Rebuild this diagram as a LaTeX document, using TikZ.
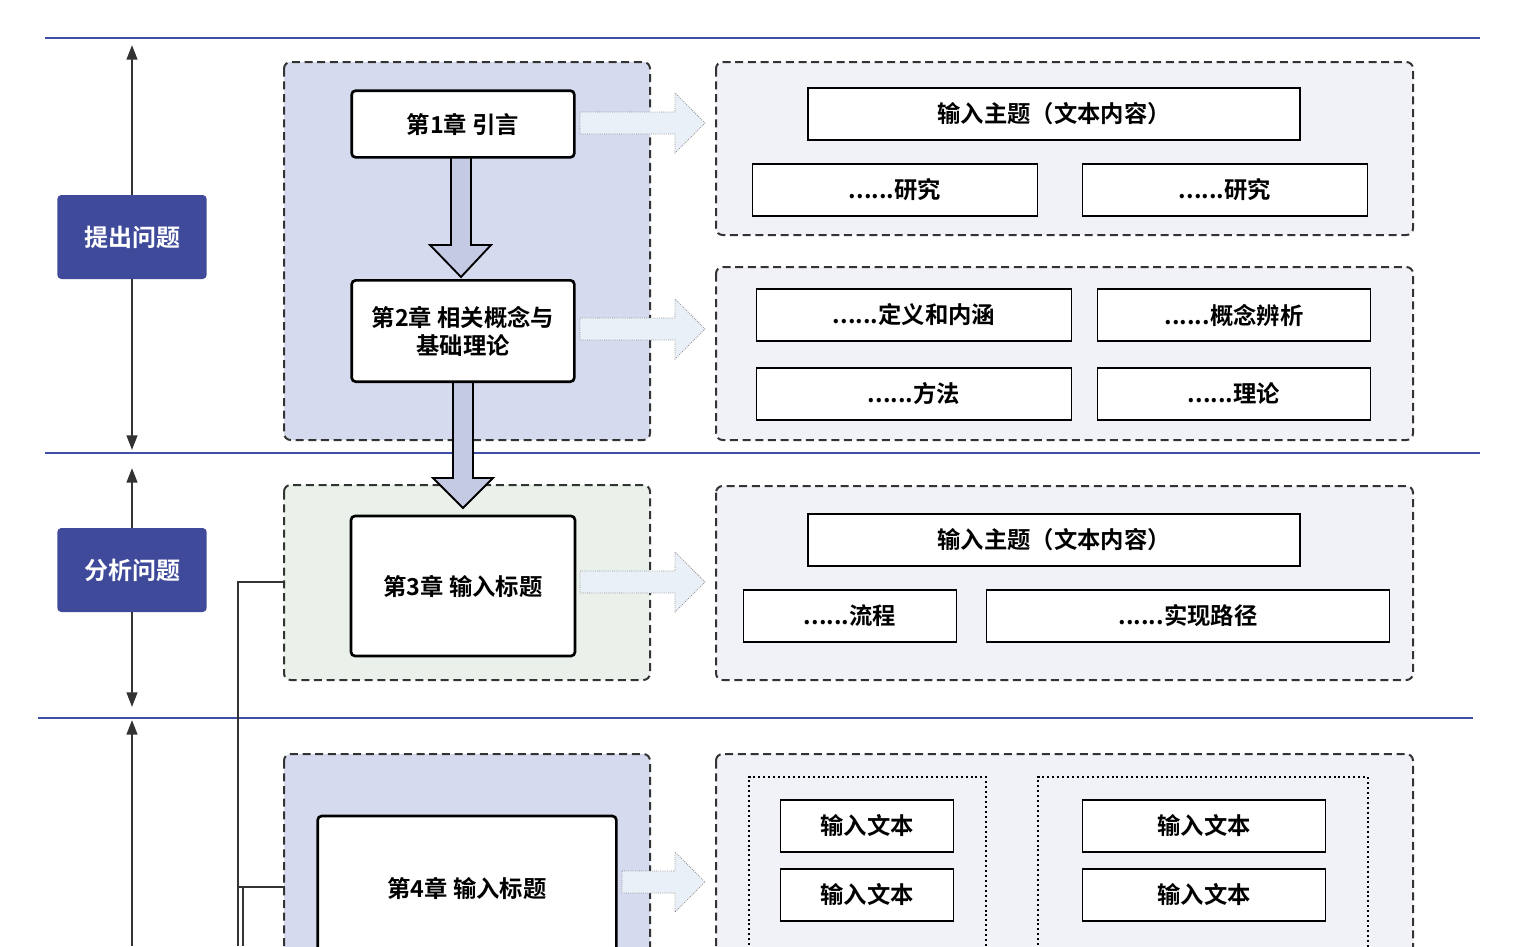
\documentclass[tikz,border=0pt]{standalone}
\usepackage{fontspec}
\setmainfont{Noto Sans CJK SC}[BoldFont={* Bold}]
\usetikzlibrary{arrows.meta}
\definecolor{bl}{HTML}{3F4FA8}
\definecolor{lab}{HTML}{3F4A9A}
\definecolor{pan}{HTML}{D6DAEE}
\definecolor{grn}{HTML}{EAF1EA}
\definecolor{rp}{HTML}{F0F2F8}
\definecolor{ar}{HTML}{C5CAE4}
\definecolor{ra}{HTML}{EAF0F8}
\begin{document}
\begin{tikzpicture}[x=0.75pt,y=-0.75pt,
 sep/.style={bl,line width=0.9pt},
 dim/.style={draw=black!80,line width=1.8pt,{Triangle[length=11pt,width=8pt]}-{Triangle[length=11pt,width=8pt]}},
 lab/.style={fill=lab,rounded corners=3pt,text=white,font=\bfseries\fontsize{18}{20}\selectfont},
 lp/.style={draw=black!80,line width=1.5pt,rounded corners=5pt,dash pattern=on 6pt off 3.5pt},
 rp/.style={lp,fill=rp},
 ch/.style={draw=black,line width=2pt,fill=white,rounded corners=3pt,font=\bfseries\fontsize{17.5}{21}\selectfont,align=center},
 bx/.style={draw=black,line width=1pt,fill=white,font=\bfseries\fontsize{17.5}{20}\selectfont},
 da/.style={draw=black,line width=1.4pt,fill=ar},
 ra/.style={draw=black!45,densely dotted,line width=0.6pt,fill=ra},
 dt/.style={draw=black,line width=1.8pt,dash pattern=on 1.5pt off 2.2pt}]
\useasboundingbox (0,0) rectangle (1515,946);
\draw[sep] (45,38)--(1480,38);
\draw[sep] (45,453)--(1480,453);
\draw[sep] (38,718)--(1473,718);
\coordinate (a1) at (132,45); \coordinate (a2) at (132,450);
\draw[dim] (a1)--(a2);
\coordinate (b1) at (132,468); \coordinate (b2) at (132,707);
\draw[dim] (b1)--(b2);
\coordinate (c1) at (132,720); \coordinate (c2) at (132,946);
\draw[draw=black!80,line width=1.8pt,{Triangle[length=11pt,width=8pt]}-] (c1)--(c2);
\node[lab,minimum width=112pt,minimum height=63pt] (L1) at (132,237) {提出问题};
\node[lab,minimum width=112pt,minimum height=63pt] (L2) at (132,570) {分析问题};
\path[lp,fill=pan] (284,62) rectangle (650,440);
\path[lp,fill=grn] (284,485) rectangle (650,680);
\path[lp,fill=pan] (284,754) rectangle (650,960);
\draw[black!80,line width=1.8pt] (285,582)--(238,582)--(238,946);
\draw[black!80,line width=1.8pt] (285,887)--(238,887);
\draw[black!80,line width=1.8pt] (243,887)--(243,946);
\path[da] (451,157)--(471,157)--(471,245)--(491,245)--(461,277)--(430,245)--(451,245)--cycle;
\path[da] (453,381)--(473,381)--(473,478)--(493,478)--(463,508)--(433,478)--(453,478)--cycle;
\node[ch,minimum width=167pt,minimum height=50pt] (c1n) at (463,124) {第1章 引言};
\node[ch,minimum width=167pt,minimum height=76pt] (c2n) at (463,331) {第2章 相关概念与\\基础理论};
\node[ch,minimum width=168pt,minimum height=105pt] (c3n) at (463,586) {第3章 输入标题};
\node[ch,minimum width=224pt,minimum height=108pt] (c4n) at (467,888) {第4章 输入标题};
\foreach \y/\s in {123/580,329/580,582/580,882/622}{
 \path[ra] (\s,\y-11)--(675,\y-11)--(675,\y-30)--(705,\y)--(675,\y+30)--(675,\y+11)--(\s,\y+11)--cycle;}
\path[rp] (716,62) rectangle (1413,235);
\path[rp] (716,267) rectangle (1413,440);
\path[rp] (716,486) rectangle (1413,680);
\path[rp] (716,754) rectangle (1413,960);
\node[bx,minimum width=369pt,minimum height=39pt] (r1) at (1054,114) {输入主题（文本内容）};
\node[bx,minimum width=214pt,minimum height=39pt] (r2) at (895,190) {......研究};
\node[bx,minimum width=214pt,minimum height=39pt] (r3) at (1225,190) {......研究};
\node[bx,minimum width=236pt,minimum height=39pt] (r4) at (914,315) {......定义和内涵};
\node[bx,minimum width=205pt,minimum height=39pt] (r5) at (1234,315) {......概念辨析};
\node[bx,minimum width=236pt,minimum height=39pt] (r6) at (914,394) {......方法};
\node[bx,minimum width=205pt,minimum height=39pt] (r7) at (1234,394) {......理论};
\node[bx,minimum width=369pt,minimum height=39pt] (r8) at (1054,540) {输入主题（文本内容）};
\node[bx,minimum width=160pt,minimum height=39pt] (r9) at (850,616) {......流程};
\node[bx,minimum width=302pt,minimum height=39pt] (r10) at (1188,616) {......实现路径};
\draw[dt] (749,960)--(749,777)--(986,777)--(986,960);
\draw[dt] (1038,960)--(1038,777)--(1368,777)--(1368,960);
\node[bx,minimum width=130pt,minimum height=39pt] (t1) at (867,826) {输入文本};
\node[bx,minimum width=130pt,minimum height=39pt] (t2) at (867,895) {输入文本};
\node[bx,minimum width=182pt,minimum height=39pt] (t3) at (1204,826) {输入文本};
\node[bx,minimum width=182pt,minimum height=39pt] (t4) at (1204,895) {输入文本};
\end{tikzpicture}
\end{document}
